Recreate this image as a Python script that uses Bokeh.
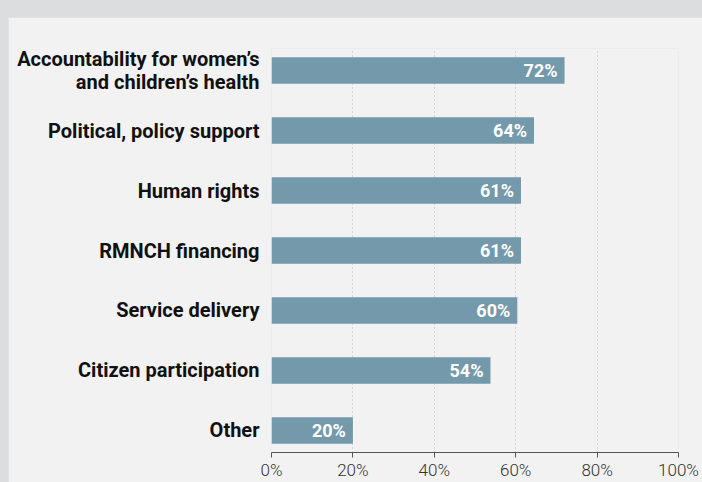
from bokeh.plotting import figure
from bokeh.models import Range1d, FixedTicker, ColumnDataSource, Spacer
from bokeh.layouts import column
from bokeh.core.properties import value
from bokeh.embed import file_html
from bokeh.resources import INLINE

categories = [
    "Accountability for women\u2019s\nand children\u2019s health",
    "Political, policy support",
    "Human rights",
    "RMNCH financing",
    "Service delivery",
    "Citizen participation",
    "Other",
]
values = [72.0, 64.5, 61.3, 61.3, 60.4, 53.8, 20.0]
bar_labels = ["72%", "64%", "61%", "61%", "60%", "54%", "20%"]
x_ticks = [0, 20, 40, 60, 80, 100]
x_tick_labels = ["0%", "20%", "40%", "60%", "80%", "100%"]

n = len(categories)
ypos = [n - 1 - i for i in range(n)]

src = ColumnDataSource(dict(y=ypos, v=values, lab=bar_labels, cat=categories))

p = figure(frame_width=407, frame_height=404, output_backend="svg", toolbar_location=None,
           x_range=Range1d(0, 100), y_range=Range1d(-0.367, n - 1 + 0.367),
           min_border_left=263, min_border_right=24, min_border_top=31,
           min_border_bottom=26)
p.background_fill_color = "#f2f2f2"
p.border_fill_color = "#f2f2f2"
p.outline_line_color = None

p.hbar(y="y", right="v", left=0, height=0.44, source=src,
       fill_color="#7399ab", line_color=None)
p.text(x="v", y="y", text="lab", source=src, x_offset=-7,
       text_align="right", text_baseline="middle", text_color="white",
       text_font=value("Roboto"), text_font_style="bold", text_font_size="18px")

# x axis
p.xaxis.ticker = FixedTicker(ticks=x_ticks)
p.xaxis.major_label_overrides = {t: l for t, l in zip(x_ticks, x_tick_labels)}
p.xaxis.axis_line_color = "#555555"
p.xaxis.major_tick_line_color = "#555555"
p.xaxis.major_tick_out = 5
p.xaxis.major_tick_in = 0
p.xaxis.minor_tick_line_color = None
p.xaxis.major_label_standoff = 2
p.xaxis.major_label_text_font = "Roboto Light"
p.xaxis.major_label_text_font_size = "17px"
p.xaxis.major_label_text_color = "#333333"
p.xaxis.major_label_text_line_height = 0.7

# y axis with category labels
p.yaxis.ticker = FixedTicker(ticks=ypos)
p.yaxis.major_label_overrides = {y: c for y, c in zip(ypos, categories)}
p.yaxis.axis_line_color = None
p.yaxis.major_tick_line_color = None
p.yaxis.minor_tick_line_color = None
p.yaxis.major_label_standoff = 6
p.yaxis.major_label_text_font = "Roboto"
p.yaxis.major_label_text_font_style = "bold"
p.yaxis.major_label_text_font_size = "20px"
p.yaxis.major_label_text_color = "#111111"
p.yaxis.major_label_text_line_height = 0.95

p.xgrid.grid_line_color = "#b8b8b8"
p.xgrid.grid_line_dash = "1 3"
p.xgrid.grid_line_width = 1
p.ygrid.grid_line_color = None

layout = column(Spacer(width=694, height=9), p)

html = file_html(layout, INLINE)
html = html.replace("</head>",
                    "<style>html,body{background:#dcdddf;margin:0;overflow:hidden;}"
                    "body{padding:8px 0 0 8px;}</style></head>", 1)
open("out.html", "w").write(html)
